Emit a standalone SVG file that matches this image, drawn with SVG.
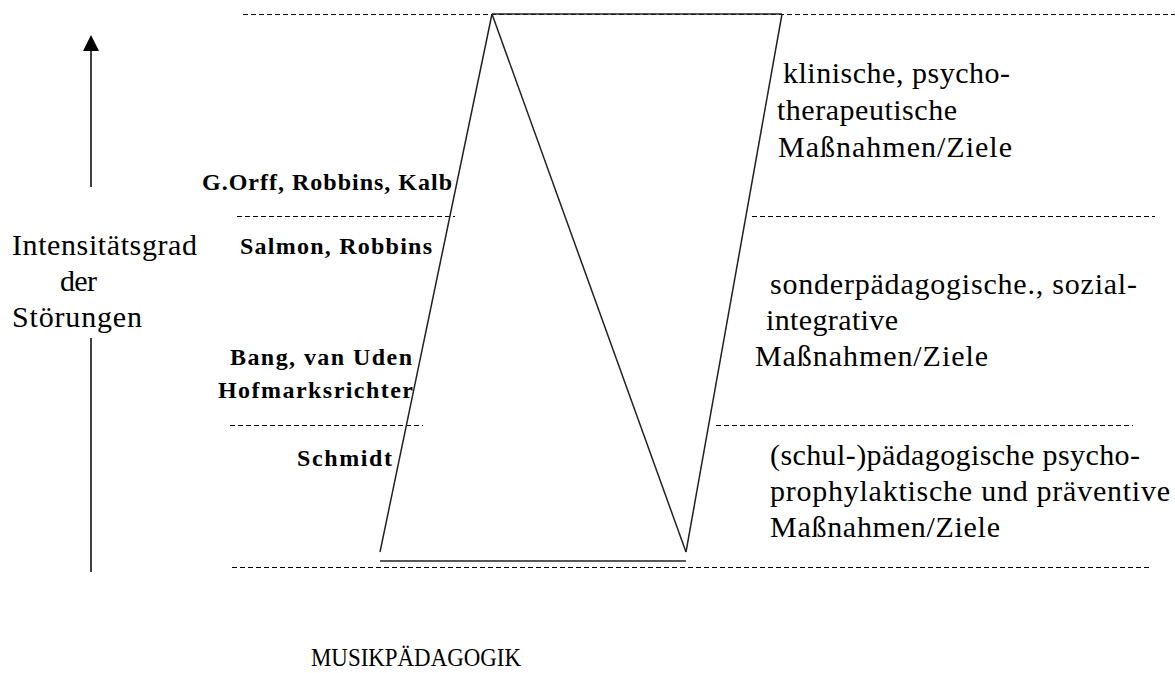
<svg xmlns="http://www.w3.org/2000/svg" width="1175" height="673" viewBox="0 0 1175 673">
<style>
  .dash { stroke:#000; stroke-width:1; stroke-dasharray:5 3; fill:none; }
  .solid { stroke:#222; stroke-width:1.5; fill:none; }
  .t { font-family:"Liberation Serif","Times New Roman",serif; font-size:30px; fill:#000; }
  .b { font-family:"Liberation Serif","Times New Roman",serif; font-size:24px; font-weight:bold; fill:#000; }
  .title { font-family:"Liberation Serif","Times New Roman",serif; font-size:26px; fill:#000; }
</style>
<rect width="1175" height="673" fill="#fff"/>

<g id="connectors">
  <line class="dash" x1="243" y1="14.5" x2="1175" y2="14.5"/>
  <line class="dash" x1="237" y1="216.5" x2="455" y2="216.5"/>
  <line class="dash" x1="752" y1="216.5" x2="1155" y2="216.5"/>
  <line class="dash" x1="230" y1="425.5" x2="423" y2="425.5"/>
  <line class="dash" x1="716" y1="425.5" x2="1133" y2="425.5"/>
  <line class="dash" x1="232" y1="567.5" x2="1152" y2="567.5"/>
  <line x1="91" y1="50" x2="91" y2="187" stroke="#000" stroke-width="1.5"/>
  <polygon points="91,35 83,51 99,51" fill="#000"/>
  <line x1="91" y1="338" x2="91" y2="572" stroke="#000" stroke-width="1.5"/>
</g>

<g id="shape">
  <line class="solid" x1="492" y1="14" x2="782" y2="14" stroke-width="2"/>
  <line class="solid" x1="492" y1="14" x2="380" y2="552"/>
  <line class="solid" x1="492" y1="14" x2="686" y2="552"/>
  <line class="solid" x1="686" y1="552" x2="782" y2="14"/>
  <line class="solid" x1="380" y1="561" x2="686" y2="561" stroke-width="2.5"/>
</g>

<g id="axis-label">
  <text class="t" x="12" y="255" textLength="185" lengthAdjust="spacing">Intensitätsgrad</text>
  <text class="t" x="60" y="291" textLength="37" lengthAdjust="spacing">der</text>
  <text class="t" x="12" y="327" textLength="130" lengthAdjust="spacing">Störungen</text>
</g>

<g id="authors">
  <text class="b" x="202" y="190" textLength="250" lengthAdjust="spacing">G.Orff, Robbins, Kalb</text>
  <text class="b" x="240" y="254" textLength="192" lengthAdjust="spacing">Salmon, Robbins</text>
  <text class="b" x="230" y="365" textLength="182" lengthAdjust="spacing">Bang, van Uden</text>
  <text class="b" x="218" y="398" textLength="195" lengthAdjust="spacing">Hofmarksrichter</text>
  <text class="b" x="297" y="466" textLength="95" lengthAdjust="spacing">Schmidt</text>
</g>

<g id="level-top">
  <text class="t" x="783" y="83" textLength="227" lengthAdjust="spacing">klinische, psycho-</text>
  <text class="t" x="777" y="120" textLength="180" lengthAdjust="spacing">therapeutische</text>
  <text class="t" x="778" y="157" textLength="234" lengthAdjust="spacing">Maßnahmen/Ziele</text>
</g>

<g id="level-middle">
  <text class="t" x="770" y="294" textLength="367" lengthAdjust="spacing">sonderpädagogische., sozial-</text>
  <text class="t" x="766" y="330" textLength="132" lengthAdjust="spacing">integrative</text>
  <text class="t" x="755" y="366" textLength="233" lengthAdjust="spacing">Maßnahmen/Ziele</text>
</g>

<g id="level-bottom">
  <text class="t" x="770" y="465" textLength="370" lengthAdjust="spacing">(schul-)pädagogische psycho-</text>
  <text class="t" x="770" y="501" textLength="400" lengthAdjust="spacing">prophylaktische und präventive</text>
  <text class="t" x="770" y="537" textLength="230" lengthAdjust="spacing">Maßnahmen/Ziele</text>
</g>

<g id="title">
  <text class="title" x="311" y="666" textLength="210" lengthAdjust="spacingAndGlyphs">MUSIKPÄDAGOGIK</text>
</g>
</svg>
